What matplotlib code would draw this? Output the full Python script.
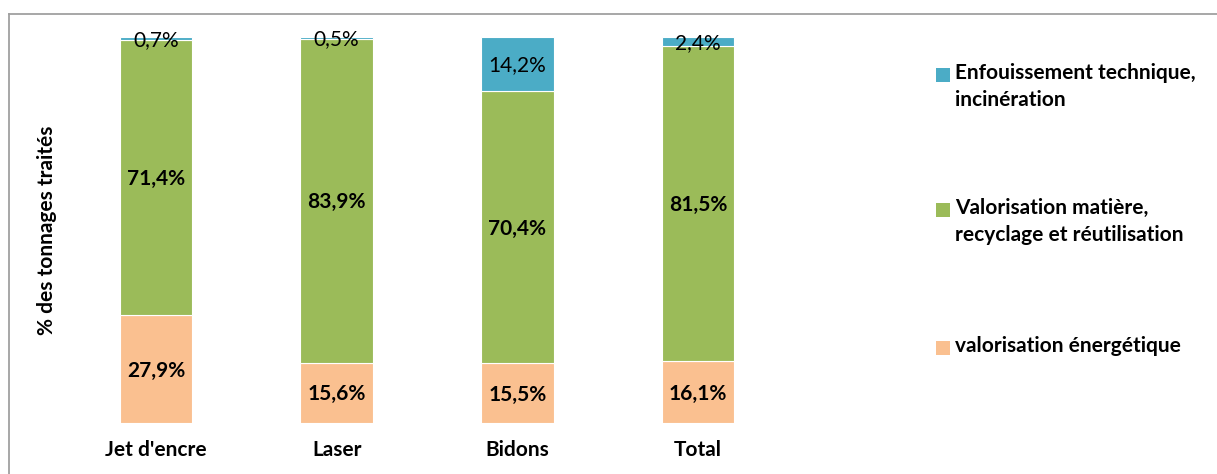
import matplotlib.pyplot as plt
from matplotlib.lines import Line2D
from matplotlib.patches import Rectangle

plt.rcParams['font.family'] = ['Lato', 'DejaVu Sans']

categories = ["Jet d'encre", "Laser", "Bidons", "Total"]
energetique = [27.9, 15.6, 15.5, 16.1]
matiere = [71.4, 83.9, 70.4, 81.5]
enfouissement = [0.7, 0.5, 14.2, 2.4]

series_names = ["valorisation énergétique",
                "Valorisation matière,\nrecyclage et réutilisation",
                "Enfouissement technique,\nincinération"]
colors = ['#FAC090', '#9BBB59', '#4BACC6']

W, H = 1217, 474
fig = plt.figure(figsize=(W / 100, H / 100), dpi=100)
ax = fig.add_axes([65.5 / W, 1 - 423 / H, 723 / W, 386 / H])

x = list(range(len(categories)))
bottom = [0.0] * len(categories)
for vals, col, weight in zip([energetique, matiere, enfouissement], colors,
                             ['bold', 'bold', 'normal']):
    ax.bar(x, vals, width=0.4, bottom=bottom, color=col, edgecolor='white', linewidth=0.8)
    for i, v in enumerate(vals):
        ax.text(x[i], bottom[i] + v / 2 - 0.4, f"{v:.1f}%".replace('.', ','),
                ha='center', va='center', fontsize=15, fontweight=weight)
    bottom = [b + v for b, v in zip(bottom, vals)]

ax.set_xlim(-0.5, len(categories) - 0.5)
ax.set_ylim(0, 100)
ax.set_xticks(x)
ax.set_xticklabels(categories, fontsize=15, fontweight='bold')
ax.tick_params(axis='x', length=0, pad=12)
ax.set_yticks([])
for s in ax.spines.values():
    s.set_visible(False)
ax.set_ylabel("% des tonnages traités", fontsize=15, fontweight='bold')
ax.yaxis.set_label_coords(-8 / 723, 0.5)

# legend drawn by hand so the square sits on the first line (like Excel)
first_line_y = [348, 210, 75]  # pixels from top, same order as series_names
for name, col, py in zip(series_names, colors, first_line_y):
    fig.add_artist(Rectangle((936 / W, 1 - (py + 7) / H), 14 / W, 14 / H,
                             facecolor=col, edgecolor='none', transform=fig.transFigure))
    fig.text(955 / W, 1 - (py - 12) / H, name, ha='left', va='top',
             fontsize=15, fontweight='bold', linespacing=1.45)

# outer frame
fig.add_artist(Line2D([9 / W, 9 / W], [0, 1 - 14 / H], color='#a0a0a0', lw=1.3))
fig.add_artist(Line2D([9 / W, 1], [1 - 14 / H, 1 - 14 / H], color='#a0a0a0', lw=1.3))

fig.savefig('out.png', dpi=100)
